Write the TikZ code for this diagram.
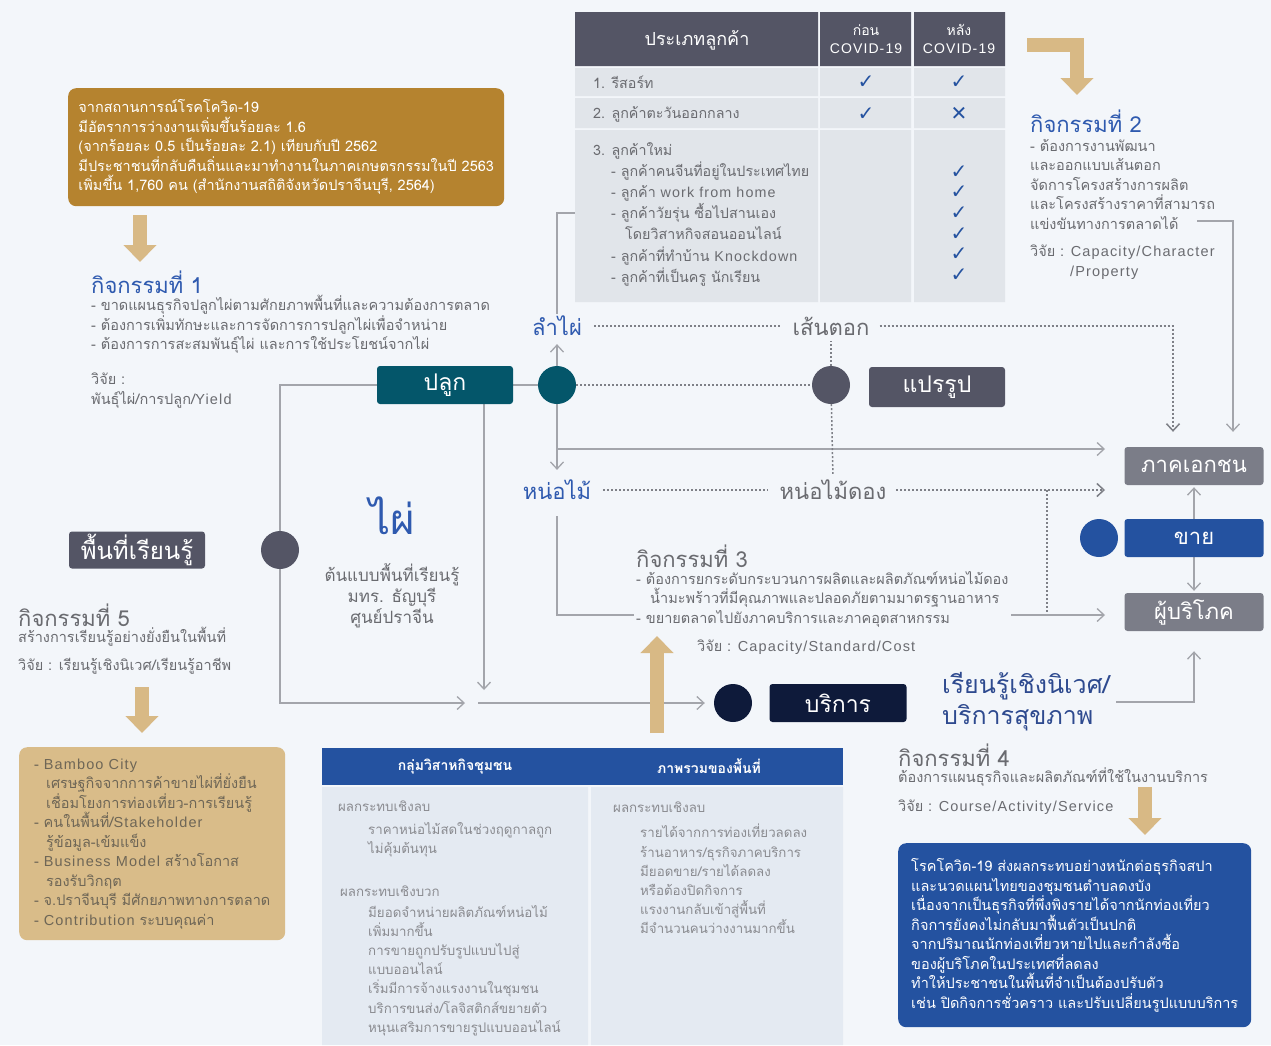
\documentclass[tikz,border=0pt]{standalone}
\usepackage{fontspec}
\setmainfont[Script=Thai]{Loma}
\newfontfamily\symfont{DejaVu Sans}
\newfontfamily\latfont[LetterSpace=8]{Liberation Sans}
\usetikzlibrary{arrows.meta,backgrounds,positioning}

\definecolor{pagebg}{HTML}{F3F6FA}
\definecolor{gold}{HTML}{B5832F}
\definecolor{tanfill}{HTML}{D9BC89}
\definecolor{tanarrow}{HTML}{D8B985}
\definecolor{teal}{HTML}{04566A}
\definecolor{slate}{HTML}{545565}
\definecolor{boxgray}{HTML}{7B7D88}
\definecolor{royal}{HTML}{2452A0}
\definecolor{navy}{HTML}{0E1A3A}
\definecolor{headblue}{HTML}{2F5AAF}
\definecolor{ecoblue}{HTML}{2E4A8F}
\definecolor{txtgray}{HTML}{6A6B70}
\definecolor{softgray}{HTML}{8A8B90}
\definecolor{linegray}{HTML}{A3A5AB}
\definecolor{dotgray}{HTML}{7E8087}
\definecolor{rowfill}{HTML}{E1E5EA}
\definecolor{cellblue}{HTML}{E4EAF2}
\definecolor{tanink}{HTML}{6E6656}

\newcommand{\txtbody}{\fontsize{14.5}{19.5}\selectfont}
\newcommand{\txtrow}{\fontsize{14.3}{21.2}\selectfont}
\newcommand{\txtsmall}{\fontsize{13.3}{19.2}\selectfont}
\newcommand{\txthead}{\fontsize{22}{26}\selectfont}
\newcommand{\txtlabel}{\fontsize{23}{26}\selectfont}
\newcommand{\lat}[1]{{\latfont #1}}
\newcommand{\tickmark}{{\symfont\fontsize{20}{20}\selectfont ✓}}
\newcommand{\crossmark}{{\symfont\fontsize{20}{20}\selectfont ✕}}

\begin{document}
\begin{tikzpicture}[x=1pt,y=-1pt,
    every node/.style={inner sep=2pt},
    >={Straight Barb[length=7pt,width=13pt]},
    conn/.style={draw=linegray,line width=1.3pt},
    dotconn/.style={draw=dotgray,line width=1.5pt,dash pattern=on 2pt off 2pt},
    fatarrow/.style={draw=tanarrow,line width=14pt,-{Triangle[length=17pt,width=32pt]}},
    labelbox/.style={rectangle,rounded corners=3pt,minimum width=136pt,minimum height=38pt,text=white,font=\txtlabel},
    hub/.style={circle,minimum size=38pt,inner sep=0pt},
    infobox/.style={rectangle,rounded corners=8pt,align=left,anchor=north west},
    blocktext/.style={align=left,anchor=north west,text=txtgray,font=\txtbody},
    linetext/.style={anchor=west,text=txtgray,font=\txtbody},
    headtext/.style={anchor=west,font=\txthead},
  ]
  \useasboundingbox (0,0) rectangle (1271,1045);

  % สถานการณ์โควิด
  \node[infobox,fill=gold,text=white,font=\txtbody,minimum width=436pt,minimum height=118pt] (covidinfo) at (68,88)
    {จากสถานการณ์โรคโควิด-19\\
     มีอัตราการว่างงานเพิ่มขึ้นร้อยละ 1.6\\
     (จากร้อยละ 0.5 เป็นร้อยละ 2.1) เทียบกับปี 2562\\
     มีประชาชนที่กลับคืนถิ่นและมาทำงานในภาคเกษตรกรรมในปี 2563\\
     เพิ่มขึ้น 1,760 คน (สำนักงานสถิติจังหวัดปราจีนบุรี, 2564)};

  % กิจกรรมที่ 1
  \node[headtext,text=headblue] (act1head) at (89,282) {กิจกรรมที่ 1};
  \node[blocktext] (act1body) at (89,293)
    {- ขาดแผนธุรกิจปลูกไผ่ตามศักยภาพพื้นที่และความต้องการตลาด\\
     - ต้องการเพิ่มทักษะและการจัดการการปลูกไผ่เพื่อจำหน่าย\\
     - ต้องการการสะสมพันธุ์ไผ่ และการใช้ประโยชน์จากไผ่};
  \node[blocktext] (act1res) at (89,371) {วิจัย :\\พันธุ์ไผ่/การปลูก/\lat{Yield}};

  % ตารางประเภทลูกค้า
  \fill[slate] (575,12) rectangle (818,66) (820,12) rectangle (911,66) (914,12) rectangle (1005,66);
  \foreach \ya/\yb in {68/96,98/128,130/302} {
    \fill[rowfill] (575,\ya) rectangle (818,\yb) (820,\ya) rectangle (911,\yb) (914,\ya) rectangle (1005,\yb);
  }
  \node[text=white,font=\fontsize{18}{22}\selectfont] (custhead) at (697,40) {ประเภทลูกค้า};
  \node[text=white,font=\fontsize{14}{18}\selectfont,align=center] (beforehead) at (866,39) {ก่อน\\\lat{COVID-19}};
  \node[text=white,font=\fontsize{14}{18}\selectfont,align=center] (afterhead) at (959,39) {หลัง\\\lat{COVID-19}};
  \node[linetext,font=\txtrow] (resort) at (591,82) {1. รีสอร์ท};
  \node[linetext,font=\txtrow] (mideast) at (591,114) {2. ลูกค้าตะวันออกกลาง};
  \node[blocktext,font=\txtrow] (newcust) at (591,140)
    {3. ลูกค้าใหม่\\
     \hspace*{18pt}- ลูกค้าคนจีนที่อยู่ในประเทศไทย\\
     \hspace*{18pt}- ลูกค้า \lat{work from home}\\
     \hspace*{18pt}- ลูกค้าวัยรุ่น ซื้อไปสานเอง\\
     \hspace*{32pt}โดยวิสาหกิจสอนออนไลน์\\
     \hspace*{18pt}- ลูกค้าที่ทำบ้าน \lat{Knockdown}\\
     \hspace*{18pt}- ลูกค้าที่เป็นครู นักเรียน};
  \foreach \cx/\cy in {866/82,959/82,866/114} {
    \node[text=royal] at (\cx,\cy) {\tickmark};
  }
  \node[text=royal] (nomideast) at (959,114) {\crossmark};
  \foreach \cy in {172,192.5,213,234,254.5,275} {
    \node[text=royal] at (959,\cy) {\tickmark};
  }
  \coordinate (tablelink) at (575,213);

  % กิจกรรมที่ 2
  \node[headtext,text=headblue] (act2head) at (1028,121) {กิจกรรมที่ 2};
  \node[blocktext] (act2body) at (1028,137)
    {- ต้องการงานพัฒนา\\
     และออกแบบเส้นตอก\\
     จัดการโครงสร้างการผลิต\\
     และโครงสร้างราคาที่สามารถ\\
     แข่งขันทางการตลาดได้};
  \node[blocktext] (act2res) at (1028,243) {วิจัย : \lat{Capacity/Character}\\\hspace*{40pt}\lat{/Property}};
  \coordinate (act2end) at (1197,221);

  % สายการผลิต
  \node[labelbox,fill=teal] (plant) at (445,385) {ปลูก};
  \node[hub,fill=teal] (tealdot) at (557,385) {};
  \node[hub,fill=slate] (greydot) at (831,385) {};
  \node[labelbox,fill=slate,minimum height=40pt] (process) at (937,387) {แปรรูป};
  \node[font=\txthead,text=headblue] (stem) at (557,326) {ลำไผ่};
  \node[font=\txthead,text=txtgray] (strand) at (831,326) {เส้นตอก};
  \node[font=\txthead,text=headblue] (shoot) at (557,490) {หน่อไม้};
  \node[font=\txthead,text=txtgray] (pickled) at (833,490) {หน่อไม้ดอง};

  % ตลาด
  \node[labelbox,fill=boxgray,minimum width=139pt,font=\fontsize{22}{26}\selectfont] (private) at (1194,466) {ภาคเอกชน};
  \node[labelbox,fill=royal,minimum width=139pt,font=\fontsize{22}{26}\selectfont] (sell) at (1194,538) {ขาย};
  \node[labelbox,fill=boxgray,minimum width=139pt,font=\fontsize{22}{26}\selectfont] (consumer) at (1194,612) {ผู้บริโภค};
  \node[hub,fill=royal] (bluedot) at (1099,538) {};
  \coordinate (privin) at (1105,449);
  \coordinate (privin2) at (1105,490);
  \coordinate (consin) at (1105,615);
  \coordinate (dropA) at (1047,490);
  \coordinate (dropB) at (1047,612);

  % ไผ่ กลางภาพ
  \node[font=\fontsize{42}{46}\selectfont,text=headblue] (bamboo) at (392,516) {ไผ่};
  \node[font=\fontsize{17}{21}\selectfont,text=txtgray,align=center] (prototype) at (392,596)
    {ต้นแบบพื้นที่เรียนรู้\\มทร. ธัญบุรี\\ศูนย์ปราจีน};

  % พื้นที่เรียนรู้
  \node[labelbox,fill=slate,font=\fontsize{24}{26}\selectfont,minimum height=37pt] (learn) at (137,550) {พื้นที่เรียนรู้};
  \node[hub,fill=slate] (learndot) at (280,550) {};
  \node[headtext,text=txtgray] (act5head) at (16,615) {กิจกรรมที่ 5};
  \node[linetext] (act5body) at (16,637) {สร้างการเรียนรู้อย่างยั่งยืนในพื้นที่};
  \node[linetext] (act5res) at (16,666) {วิจัย : เรียนรู้เชิงนิเวศ/เรียนรู้อาชีพ};
  \node[infobox,fill=tanfill,text=tanink,font=\txtbody,minimum width=266pt,minimum height=193pt] (bamboocity) at (19,747)
    {- \lat{Bamboo City}\\
     \hspace*{12pt}เศรษฐกิจจากการค้าขายไผ่ที่ยั่งยืน\\
     \hspace*{12pt}เชื่อมโยงการท่องเที่ยว-การเรียนรู้\\
     - คนในพื้นที่/\lat{Stakeholder}\\
     \hspace*{12pt}รู้ข้อมูล-เข้มแข็ง\\
     - \lat{Business Model} สร้างโอกาส\\
     \hspace*{12pt}รองรับวิกฤต\\
     - จ.ปราจีนบุรี มีศักยภาพทางการตลาด\\
     - \lat{Contribution} ระบบคุณค่า};
  \coordinate (areaend) at (465,703);
  \coordinate (bamboodown) at (484,690);
  \coordinate (midjoin) at (478,703);

  % กิจกรรมที่ 3
  \node[headtext,text=txtgray] (act3head) at (634,556) {กิจกรรมที่ 3};
  \node[blocktext,fill=pagebg] (act3body) at (634,569)
    {- ต้องการยกระดับกระบวนการผลิตและผลิตภัณฑ์หน่อไม้ดอง\\
     \hspace*{14pt}น้ำมะพร้าวที่มีคุณภาพและปลอดภัยตามมาตรฐานอาหาร\\
     - ขยายตลาดไปยังภาคบริการและภาคอุตสาหกรรม};
  \node[linetext] (act3res) at (695,647) {วิจัย : \lat{Capacity/Standard/Cost}};

  % บริการ
  \node[hub,fill=navy] (navydot) at (733,703) {};
  \node[labelbox,fill=navy,minimum width=137pt] (service) at (838,703) {บริการ};
  \node[anchor=west,align=left,text=ecoblue,font=\fontsize{25}{31}\selectfont] (eco) at (940,702) {เรียนรู้เชิงนิเวศ/\\บริการสุขภาพ};
  \node[headtext,text=txtgray] (act4head) at (896,755) {กิจกรรมที่ 4};
  \node[linetext] (act4body) at (896,777) {ต้องการแผนธุรกิจและผลิตภัณฑ์ที่ใช้ในงานบริการ};
  \node[linetext] (act4res) at (896,807) {วิจัย : \lat{Course/Activity/Service}};
  \node[infobox,fill=royal,text=white,font=\txtbody,minimum width=353pt,minimum height=184pt] (spainfo) at (898,843)
    {โรคโควิด-19 ส่งผลกระทบอย่างหนักต่อธุรกิจสปา\\
     และนวดแผนไทยของชุมชนตำบลดงบัง\\
     เนื่องจากเป็นธุรกิจที่พึ่งพิงรายได้จากนักท่องเที่ยว\\
     กิจการยังคงไม่กลับมาฟื้นตัวเป็นปกติ\\
     จากปริมาณนักท่องเที่ยวหายไปและกำลังซื้อ\\
     ของผู้บริโภคในประเทศที่ลดลง\\
     ทำให้ประชาชนในพื้นที่จำเป็นต้องปรับตัว\\
     เช่น ปิดกิจการชั่วคราว และปรับเปลี่ยนรูปแบบบริการ};

  % ตารางผลกระทบ
  \fill[royal] (322,748) rectangle (843,785);
  \fill[cellblue] (322,787) rectangle (588,1045) (591,787) rectangle (843,1045);
  \node[text=white,font=\bfseries\fontsize{14}{18}\selectfont] (grouphead) at (455,767) {กลุ่มวิสาหกิจชุมชน};
  \node[text=white,font=\bfseries\fontsize{14}{18}\selectfont] (areahead) at (709,766) {ภาพรวมของพื้นที่};
  \node[linetext,text=softgray,font=\txtsmall] (groupneg) at (336,806) {ผลกระทบเชิงลบ};
  \node[blocktext,text=softgray,font=\txtsmall] (groupnegitems) at (366,820)
    {ราคาหน่อไม้สดในช่วงฤดูกาลถูก\\ไม่คุ้มต้นทุน};
  \node[linetext,text=softgray,font=\txtsmall] (grouppos) at (338,891) {ผลกระทบเชิงบวก};
  \node[blocktext,text=softgray,font=\txtsmall] (groupositems) at (366,903)
    {มียอดจำหน่ายผลิตภัณฑ์หน่อไม้\\
     เพิ่มมากขึ้น\\
     การขายถูกปรับรูปแบบไปสู่\\
     แบบออนไลน์\\
     เริ่มมีการจ้างแรงงานในชุมชน\\
     บริการขนส่ง/โลจิสติกส์ขยายตัว\\
     หนุนเสริมการขายรูปแบบออนไลน์};
  \node[linetext,text=softgray,font=\txtsmall] (areaneg) at (611,807) {ผลกระทบเชิงลบ};
  \node[blocktext,text=softgray,font=\txtsmall] (areanegitems) at (638,822)
    {รายได้จากการท่องเที่ยวลดลง\\
     ร้านอาหาร/ธุรกิจภาคบริการ\\
     มียอดขาย/รายได้ลดลง\\
     หรือต้องปิดกิจการ\\
     แรงงานกลับเข้าสู่พื้นที่\\
     มีจำนวนคนว่างงานมากขึ้น};

  % ลูกศรใหญ่
  \draw[fatarrow] (140,215) -- (140,262);
  \draw[fatarrow] (142,687) -- (142,733);
  \draw[fatarrow] (657,733) -- (657,636);
  \draw[fatarrow] (1145,787) -- (1145,835);
  \draw[fatarrow] (1027,45) -| (1077,95);

  % เส้นเชื่อม
  \begin{pgfonlayer}{background}
    \fill[pagebg] (0,0) rectangle (1271,1045);
    \draw[conn] (plant.east) -- (tealdot);
    \draw[dotconn] (tealdot) -- (greydot);
    \draw[conn,->,shorten >=6pt] (tealdot) -- (stem.south);
    \draw[conn,->,shorten >=8pt] (tealdot) -- (shoot.north);
    \draw[conn,->] (tealdot) |- (privin);
    \draw[conn] (stem.north) |- (tablelink);
    \draw[dotconn,shorten >=4pt] (greydot) -- (strand.south);
    \draw[dotconn,shorten >=4pt] (greydot) -- (pickled.north);
    \draw[dotconn,shorten <=10pt,shorten >=10pt] (stem.east) -- (strand.west);
    \draw[dotconn,->,shorten <=8pt,shorten >=15pt] (strand.east) -| ([xshift=-21pt]private.north);
    \draw[dotconn,shorten <=10pt,shorten >=10pt] (shoot.east) -- (pickled.west);
    \draw[dotconn,->,shorten <=8pt] (pickled.east) -- (privin2);
    \draw[dotconn] (dropA) -- (dropB);
    \draw[conn,->] ([yshift=-14pt]shoot.south) |- (consin);
    \draw[conn,->,shorten >=15pt] (act2end) -| ([xshift=39pt]private.north);
    \draw[conn,->,shorten >=2pt] (sell.north) -- (private.south);
    \draw[conn,->,shorten >=2pt] (sell.south) -- (consumer.north);
    \draw[conn,->,shorten <=4pt,shorten >=20pt] (eco.east) -| (consumer.south);
    \draw[conn,->] (plant.west) -| (learndot.center) |- (areaend);
    \draw[conn,->] (plant.south -| bamboodown) -- (bamboodown);
    \draw[conn,->,shorten >=9pt] (midjoin) -- (navydot.west);
  \end{pgfonlayer}
\end{tikzpicture}
\end{document}
